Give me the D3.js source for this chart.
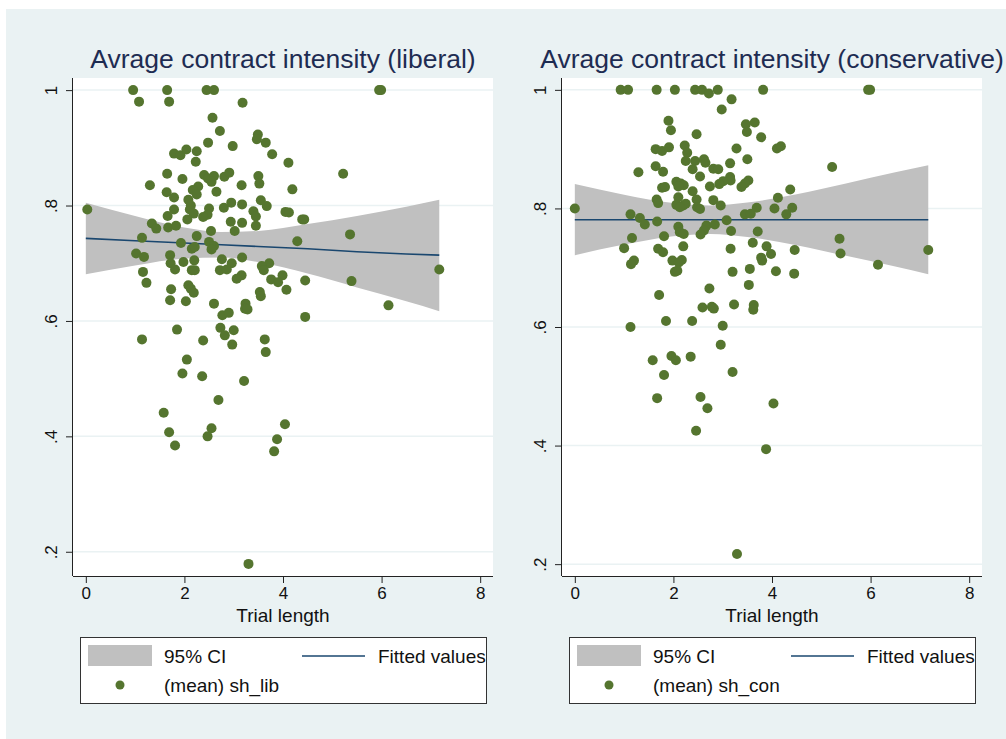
<!DOCTYPE html>
<html>
<head>
<meta charset="utf-8">
<script src="https://cdnjs.cloudflare.com/ajax/libs/d3/7.8.5/d3.min.js"></script>
<style>
  body { margin: 0; background: #ffffff; }
  svg text { font-family: "Liberation Sans", Arial, Helvetica, sans-serif; }
</style>
</head>
<body>
<div id="chart"></div>
<script>
// tick values shared by both panels
var xTicks = [0, 2, 4, 6, 8];
var yTicks = [0.2, 0.4, 0.6, 0.8, 1];
var yTickLabels = [".2", ".4", ".6", ".8", "1"];

// CI band (x, lower, upper, fitted)
var bandX    = [0, 1, 2, 2.75, 3.5, 4.5, 5.5, 6.5, 7.17];
var libLower = [0.681, 0.696, 0.708, 0.710, 0.702, 0.682, 0.658, 0.634, 0.617];
var libUpper = [0.805, 0.782, 0.762, 0.754, 0.756, 0.768, 0.782, 0.798, 0.810];
var libFit   = [0.743, 0.739, 0.735, 0.732, 0.729, 0.725, 0.720, 0.716, 0.714];
var conLower = [0.721, 0.739, 0.753, 0.757, 0.752, 0.738, 0.720, 0.702, 0.689];
var conUpper = [0.841, 0.823, 0.809, 0.805, 0.810, 0.824, 0.842, 0.861, 0.873];
var conFit   = [0.781, 0.781, 0.781, 0.781, 0.781, 0.781, 0.781, 0.781, 0.781];

// (trial length, mean share) per case
var libPoints = [
  [0.96,1.0],[1.08,.98],[1.65,1.0],[1.69,.98],[2.45,1.0],[2.60,1.0],[3.18,.978],[2.57,.952],[2.72,.929],
  [3.49,.923],[3.47,.915],[3.65,.909],[2.48,.909],[2.98,.903],[3.78,.889],[1.79,.890],[1.92,.887],[2.04,.897],
  [2.25,.894],[2.23,.876],[4.11,.874],[1.65,.855],[1.96,.846],[1.30,.835],[2.40,.853],[2.48,.847],[2.60,.851],
  [2.55,.841],[2.81,.850],[2.91,.857],[3.16,.835],[3.50,.851],[3.52,.838],[2.28,.833],[2.17,.827],[2.25,.819],
  [2.65,.824],[4.19,.828],[1.64,.823],[1.79,.814],[2.08,.810],[2.13,.800],[2.11,.793],[2.19,.786],[2.06,.776],
  [1.79,.793],[1.66,.782],[0.03,.793],[2.50,.795],[2.47,.784],[2.38,.780],[2.80,.796],[2.95,.805],[3.17,.802],
  [3.55,.809],[3.67,.799],[3.40,.790],[3.45,.781],[4.05,.789],[4.12,.788],[4.39,.776],[4.43,.776],[1.34,.769],
  [1.43,.760],[1.67,.762],[1.83,.765],[2.94,.772],[3.17,.770],[3.45,.765],[2.54,.756],[3.02,.756],[1.14,.744],
  [2.25,.747],[1.93,.735],[2.50,.737],[2.60,.730],[4.29,.738],[2.15,.725],[2.21,.728],[2.55,.724],[1.02,.717],
  [1.18,.711],[1.71,.714],[2.76,.707],[3.17,.710],[2.20,.705],[1.98,.702],[1.72,.700],[2.96,.700],[3.72,.700],
  [3.57,.695],[1.81,.689],[1.16,.685],[2.15,.688],[2.21,.688],[2.72,.688],[2.86,.689],[3.61,.688],[3.16,.679],
  [3.06,.673],[3.99,.679],[3.76,.672],[3.90,.667],[4.45,.670],[1.23,.666],[4.07,.654],[1.73,.655],[2.08,.662],
  [2.13,.656],[2.19,.649],[1.71,.636],[2.03,.634],[2.60,.630],[3.24,.630],[3.23,.621],[3.28,.620],[3.53,.650],
  [3.55,.643],[2.77,.610],[2.90,.614],[4.45,.607],[1.85,.585],[1.14,.568],[2.38,.566],[2.73,.588],[3.00,.584],
  [2.82,.575],[2.97,.559],[3.63,.568],[3.65,.546],[2.05,.533],[1.96,.509],[2.36,.504],[3.21,.496],[2.69,.463],
  [1.58,.441],[1.69,.407],[1.81,.384],[2.55,.414],[2.47,.400],[4.04,.421],[3.88,.395],[3.82,.374],[3.30,.179],
  [5.95,1.0],[5.99,1.0],[5.22,.855],[5.36,.750],[7.17,.689],[5.39,.669],[6.14,.627]
];

var conPoints = [
  [0.93,1],[1.08,1],[1.66,1],[2.03,1],[2.44,1],[2.58,1],[2.72,.994],[2.90,1],[3.82,1],[3.18,.984],[2.98,.967],
  [1.90,.948],[1.95,.932],[2.47,.925],[3.47,.942],[3.65,.945],[3.49,.929],[3.78,.920],[1.64,.900],[1.77,.897],
  [1.91,.903],[2.23,.906],[2.28,.894],[3.28,.901],[4.10,.901],[4.18,.905],[2.25,.880],[2.44,.880],[2.62,.883],
  [2.65,.877],[3.15,.876],[3.50,.883],[1.64,.871],[1.79,.862],[1.29,.861],[2.39,.866],[2.81,.867],[2.91,.866],
  [2.54,.854],[3.15,.853],[3.16,.847],[3.01,.846],[2.93,.841],[3.52,.847],[3.45,.842],[3.38,.836],[4.37,.832],
  [1.77,.835],[1.83,.836],[2.06,.845],[2.15,.842],[2.21,.839],[2.10,.837],[2.74,.837],[2.39,.829],[4.12,.818],
  [1.66,.815],[1.69,.809],[2.10,.819],[2.06,.806],[2.20,.805],[2.25,.808],[2.13,.802],[2.47,.815],[2.48,.802],
  [2.54,.799],[2.81,.814],[2.96,.805],[0,.800],[3.69,.801],[3.45,.790],[3.57,.791],[4.05,.800],[4.41,.801],
  [4.29,.790],[1.13,.790],[1.32,.784],[1.42,.773],[1.67,.778],[3.08,.780],[2.10,.769],[2.13,.760],[2.21,.757],
  [2.67,.771],[2.84,.773],[2.62,.763],[2.55,.756],[3.17,.762],[3.71,.761],[1.16,.750],[1.81,.753],[1.00,.733],
  [1.69,.732],[1.79,.726],[2.20,.736],[3.16,.732],[3.61,.742],[3.89,.736],[3.98,.723],[4.46,.730],[1.20,.712],
  [1.14,.706],[1.98,.712],[2.17,.713],[2.11,.709],[3.78,.717],[3.80,.712],[2.03,.693],[2.08,.695],[3.20,.693],
  [3.55,.698],[4.08,.694],[4.45,.690],[1.71,.654],[2.73,.665],[3.53,.671],[2.59,.633],[2.78,.634],[2.82,.631],
  [3.23,.638],[3.63,.637],[3.62,.629],[1.85,.610],[2.38,.610],[3.00,.602],[1.13,.600],[2.96,.570],[1.58,.544],
  [1.96,.551],[2.05,.544],[2.35,.550],[1.81,.519],[3.20,.524],[1.67,.480],[2.55,.482],[2.69,.463],[4.03,.471],
  [2.46,.425],[3.88,.394],[3.29,.217],[5.95,1],[5.99,1],[5.22,.870],[5.37,.749],[5.39,.724],[6.15,.705],[7.17,.730]
];

var BG = "#eaf2f3", DOT = "#55752f", BAND = "#c0c0c0", NAVY = "#1a476f", TITLE = "#1e2c52";

var svg = d3.select("#chart").append("svg")
  .attr("width", 1006)
  .attr("height", 739);

svg.append("rect")
  .attr("x", 6).attr("y", 9)
  .attr("width", 1000).attr("height", 730)
  .attr("fill", BG);

function drawPanel(p) {
  var x = d3.scaleLinear().domain([-0.26, 8.26]).range([p.left, p.right]);
  var y = d3.scaleLinear().domain(p.yDomain).range([576, 78]);

  var g = svg.append("g");

  g.append("rect")
    .attr("x", p.left).attr("y", 78)
    .attr("width", p.right - p.left).attr("height", 576 - 78)
    .attr("fill", "#ffffff");

  // horizontal grid
  g.selectAll("line.grid").data(yTicks).enter().append("line")
    .attr("class", "grid")
    .attr("x1", p.left).attr("x2", p.right)
    .attr("y1", function(d) { return y(d); })
    .attr("y2", function(d) { return y(d); })
    .attr("stroke", BG).attr("stroke-width", 1.5);

  var band = bandX.map(function(d, i) { return { x: d, lo: p.lower[i], hi: p.upper[i], fit: p.fit[i] }; });

  g.append("path")
    .datum(band)
    .attr("fill", BAND)
    .attr("d", d3.area()
      .curve(d3.curveMonotoneX)
      .x(function(d) { return x(d.x); })
      .y0(function(d) { return y(d.lo); })
      .y1(function(d) { return y(d.hi); }));

  g.append("path")
    .datum(band)
    .attr("fill", "none")
    .attr("stroke", NAVY)
    .attr("stroke-width", 1.6)
    .attr("d", d3.line()
      .x(function(d) { return x(d.x); })
      .y(function(d) { return y(d.fit); }));

  g.selectAll("circle.pt").data(p.points).enter().append("circle")
    .attr("class", "pt")
    .attr("cx", function(d) { return x(d[0]); })
    .attr("cy", function(d) { return y(d[1]); })
    .attr("r", 5)
    .attr("fill", DOT);

  // axes
  var xAxis = g.append("g")
    .attr("transform", "translate(0,576)")
    .call(d3.axisBottom(x).tickValues(xTicks).tickSize(7).tickPadding(4).tickSizeOuter(0));
  xAxis.select(".domain").attr("stroke", "#222").attr("d", "M" + p.left + ",0.5H" + p.right);
  xAxis.selectAll(".tick line").attr("stroke", "#222");
  xAxis.selectAll(".tick text").attr("font-size", 17).attr("fill", "#111");

  var yAxis = g.append("g")
    .attr("transform", "translate(" + p.left + ",0)")
    .call(d3.axisLeft(y).tickValues(yTicks).tickSize(7).tickSizeOuter(0)
      .tickFormat(function(d, i) { return yTickLabels[i]; }));
  yAxis.select(".domain").attr("stroke", "#222").attr("d", "M-0.5,78V576");
  yAxis.selectAll(".tick line").attr("stroke", "#222");
  yAxis.selectAll(".tick text")
    .attr("font-size", 17).attr("fill", "#111")
    .attr("x", 0).attr("y", -16).attr("dy", 0)
    .attr("text-anchor", "middle")
    .attr("transform", "rotate(-90)");

  svg.append("text")
    .attr("x", (p.left + p.right) / 2).attr("y", 622)
    .attr("text-anchor", "middle")
    .attr("font-size", 19).attr("fill", "#111")
    .text("Trial length");

  svg.append("text")
    .attr("x", (p.left + p.right) / 2).attr("y", 68)
    .attr("text-anchor", "middle")
    .attr("font-size", 26.5).attr("fill", TITLE)
    .text(p.title);

  // legend
  var lx = p.left + 7;
  var lg = svg.append("g").attr("transform", "translate(" + lx + ",637)");
  lg.append("rect")
    .attr("x", 0.5).attr("y", 0.5).attr("width", 406).attr("height", 66)
    .attr("fill", "#ffffff").attr("stroke", "#333").attr("stroke-width", 1);
  lg.append("rect")
    .attr("x", 8).attr("y", 8).attr("width", 64).attr("height", 21)
    .attr("fill", BAND);
  lg.append("text").attr("x", 84).attr("y", 26).attr("font-size", 19).attr("fill", "#111").text("95% CI");
  lg.append("line")
    .attr("x1", 222).attr("x2", 285).attr("y1", 19).attr("y2", 19)
    .attr("stroke", NAVY).attr("stroke-width", 1.6);
  lg.append("text").attr("x", 298).attr("y", 26).attr("font-size", 19).attr("fill", "#111").text("Fitted values");
  lg.append("circle").attr("cx", 40).attr("cy", 48).attr("r", 4.5).attr("fill", DOT);
  lg.append("text").attr("x", 84).attr("y", 55).attr("font-size", 19).attr("fill", "#111").text(p.legendLabel);
}

drawPanel({
  left: 73, right: 493,
  yDomain: [0.158, 1.021],
  title: "Avrage contract intensity (liberal)",
  legendLabel: "(mean) sh_lib",
  points: libPoints, lower: libLower, upper: libUpper, fit: libFit
});

drawPanel({
  left: 562, right: 982,
  yDomain: [0.180, 1.020],
  title: "Avrage contract intensity (conservative)",
  legendLabel: "(mean) sh_con",
  points: conPoints, lower: conLower, upper: conUpper, fit: conFit
});
</script>
</body>
</html>
